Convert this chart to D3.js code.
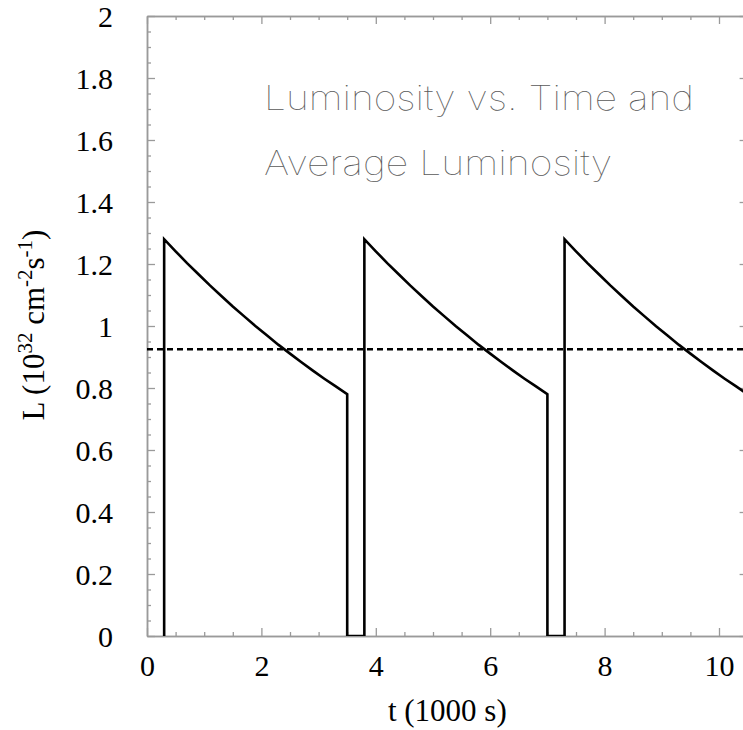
<!DOCTYPE html>
<html>
<head>
<meta charset="utf-8">
<script src="https://cdn.jsdelivr.net/npm/d3@7"></script>
<style>
  html, body { margin: 0; padding: 0; background: #fff; }
  svg { display: block; }
</style>
</head>
<body>
<svg id="chart" width="743" height="730"></svg>
<script>
// Fill cycles: each starts at one of these times (1000 s)
const cycleStart = [0.3, 3.8, 7.3];
// Luminosity decay during a fill, sampled against time since the fill started
const fillOffset = [0, 0.2, 0.4, 0.6, 0.8, 1.0, 1.2, 1.4, 1.6, 1.8, 2.0, 2.2, 2.4, 2.6, 2.8, 3.0, 3.2];
const fillLum    = [1.28, 1.241, 1.203, 1.167, 1.131, 1.097, 1.063, 1.031, 0.999, 0.969, 0.939, 0.911, 0.883, 0.856, 0.830, 0.805, 0.780];
// Time-averaged luminosity
const avgLum = 0.925;

// Axis ticks
const xTickLabels = [0, 2, 4, 6, 8, 10];
const yTickLabels = [0, 0.2, 0.4, 0.6, 0.8, 1, 1.2, 1.4, 1.6, 1.8, 2];
const xDomain = [0, 10.5];
const yDomain = [0, 2];

const titleLines = ["Luminosity vs. Time and", "Average Luminosity"];

// Build the full trace: rise from zero, decay, drop back to zero, stay off until next fill
const trace = [];
cycleStart.forEach(t0 => {
  trace.push([t0, 0]);
  fillOffset.forEach((o, i) => trace.push([t0 + o, fillLum[i]]));
  trace.push([t0 + fillOffset[fillOffset.length - 1], 0]);
});

const svg = d3.select("#chart");
const plotL = 147, plotT = 16, plotB = 636;
const x = d3.scaleLinear().domain(xDomain).range([plotL, plotL + 57.2 * xDomain[1]]);
const y = d3.scaleLinear().domain(yDomain).range([plotB, plotT]);
const plotR = x.range()[1];

const axisColor = "#9a9a9a";
const serif = "'Liberation Serif', 'Times New Roman', serif";

// Clip region for data
svg.append("defs").append("clipPath").attr("id", "plotclip")
  .append("rect").attr("x", plotL).attr("y", plotT).attr("width", plotR - plotL).attr("height", plotB - plotT);

// Tick sets
const xMinor = d3.range(0, xDomain[1] + 1e-9, 0.5).filter(v => Math.abs(v / 2 - Math.round(v / 2)) > 1e-6);
const yMinor = d3.range(0, 2 + 1e-9, 0.05).filter(v => Math.abs(v / 0.2 - Math.round(v / 0.2)) > 1e-6);

function styleAxis(g) {
  g.selectAll("path.domain").attr("stroke", axisColor).attr("stroke-width", 1.5);
  g.selectAll(".tick line").attr("stroke", axisColor).attr("stroke-width", 1.3);
  g.selectAll(".tick text").remove();
}

// Inward ticks on all four sides
const majorLen = 8, minorLen = 4;
[[xTickLabels, majorLen], [xMinor, minorLen]].forEach(([vals, len]) => {
  svg.append("g").attr("transform", `translate(0,${plotB})`)
    .call(d3.axisTop(x).tickValues(vals).tickSizeInner(len).tickSizeOuter(0).tickFormat(""))
    .call(styleAxis);
  svg.append("g").attr("transform", `translate(0,${plotT})`)
    .call(d3.axisBottom(x).tickValues(vals).tickSizeInner(len).tickSizeOuter(0).tickFormat(""))
    .call(styleAxis);
});
[[yTickLabels, majorLen], [yMinor, minorLen]].forEach(([vals, len]) => {
  svg.append("g").attr("transform", `translate(${plotL},0)`)
    .call(d3.axisRight(y).tickValues(vals).tickSizeInner(len).tickSizeOuter(0).tickFormat(""))
    .call(styleAxis);
  svg.append("g").attr("transform", `translate(${plotR},0)`)
    .call(d3.axisLeft(y).tickValues(vals).tickSizeInner(len).tickSizeOuter(0).tickFormat(""))
    .call(styleAxis);
});

// Tick labels
const xLab = svg.append("g").attr("transform", `translate(0,${plotB})`)
  .call(d3.axisBottom(x).tickValues(xTickLabels).tickSize(0).tickPadding(0).tickFormat(d3.format("d")));
xLab.select("path.domain").remove();
xLab.selectAll("text").attr("font-family", serif).attr("font-size", 30).attr("fill", "#000")
  .attr("dy", null).attr("y", 40);

const yLab = svg.append("g").attr("transform", `translate(${plotL},0)`)
  .call(d3.axisLeft(y).tickValues(yTickLabels).tickSize(0).tickPadding(34).tickFormat(d => String(d)));
yLab.select("path.domain").remove();
yLab.selectAll("text").attr("font-family", serif).attr("font-size", 30).attr("fill", "#000")
  .attr("dy", "0.34em");

// Axis titles
svg.append("text")
  .attr("x", (plotL + plotR) / 2).attr("y", 721)
  .attr("text-anchor", "middle")
  .attr("font-family", serif).attr("font-size", 31)
  .text("t (1000 s)");

const yt = svg.append("text")
  .attr("transform", "translate(44,325) rotate(-90)")
  .attr("text-anchor", "middle")
  .attr("font-family", serif).attr("font-size", 31);
yt.append("tspan").text("L (10");
yt.append("tspan").attr("font-size", 21).attr("dy", -12).text("32");
yt.append("tspan").attr("dy", 12).text(" cm");
yt.append("tspan").attr("font-size", 21).attr("dy", -12).text("-2");
yt.append("tspan").attr("dy", 12).text("s");
yt.append("tspan").attr("font-size", 21).attr("dy", -12).text("-1");
yt.append("tspan").attr("dy", 12).text(")");

// Chart title inside the frame, thin light lettering
const titleG = svg.append("g");
titleLines.forEach((t, i) => {
  titleG.append("text")
    .attr("x", 264).attr("y", 110 + i * 65)
    .attr("font-family", "Inter, 'DejaVu Sans', sans-serif")
    .attr("font-weight", 100)
    .attr("font-size", 34)
    .attr("fill", "#5a5a5a")
    .attr("textLength", i === 0 ? 430 : 348)
    .attr("lengthAdjust", "spacingAndGlyphs")
    .text(t);
});

// Data
const plot = svg.append("g").attr("clip-path", "url(#plotclip)");
plot.append("line")
  .attr("x1", x(xDomain[0])).attr("x2", x(xDomain[1]))
  .attr("y1", y(avgLum)).attr("y2", y(avgLum))
  .attr("stroke", "#000").attr("stroke-width", 2.4)
  .attr("stroke-dasharray", "6,4");

plot.append("path")
  .datum(trace)
  .attr("fill", "none").attr("stroke", "#000").attr("stroke-width", 2.6)
  .attr("stroke-linejoin", "miter")
  .attr("d", d3.line().x(d => x(d[0])).y(d => y(d[1])));
</script>
</body>
</html>
